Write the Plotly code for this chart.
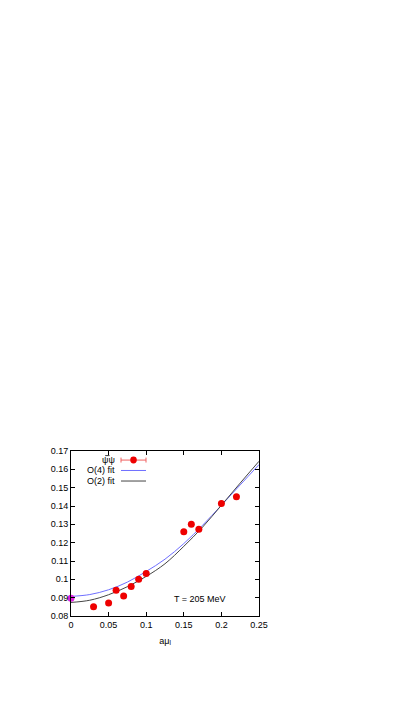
import plotly.graph_objects as go

# lattice data: chiral condensate vs light quark chemical potential
mu = [0.03, 0.05, 0.06, 0.07, 0.08, 0.09, 0.10, 0.15, 0.16, 0.17, 0.20, 0.22]
pbp = [0.0851, 0.0871, 0.0941, 0.0909, 0.0961, 0.1001, 0.1032,
       0.1259, 0.1301, 0.1273, 0.1413, 0.1450]
mu0 = [0.0]
pbp0 = [0.0897]

# fit curves
mu_fit = [0.0, 0.025, 0.05, 0.075, 0.1, 0.125, 0.15, 0.175, 0.2, 0.225, 0.25]
o4_fit = [0.0907, 0.0917, 0.0943, 0.0985, 0.1043, 0.1110, 0.1195,
          0.1295, 0.1404, 0.1515, 0.1626]
o2_fit = [0.0874, 0.0886, 0.0916, 0.0960, 0.1016, 0.1085, 0.1180,
          0.1285, 0.1404, 0.1525, 0.1644]

font = dict(family="Liberation Sans, Arial, sans-serif", size=9, color="black")

fig = go.Figure()
fig.add_trace(go.Scatter(x=mu_fit, y=o4_fit, mode="lines",
                         line=dict(color="#6f6fff", width=1, shape="spline")))
fig.add_trace(go.Scatter(x=mu_fit, y=o2_fit, mode="lines",
                         line=dict(color="#454545", width=1, shape="spline")))
fig.add_trace(go.Scatter(x=mu, y=pbp, mode="markers",
                         marker=dict(color="#ee0000", size=7), cliponaxis=False))
fig.add_trace(go.Scatter(x=mu0, y=pbp0, mode="markers",
                         marker=dict(color="#e020e0", size=7), cliponaxis=False))

# gnuplot style key (text on the left, sample on the right)
keys = [("ψψ", 0.945), ("O(4) fit", 0.882), ("O(2) fit", 0.818)]
for text, ky in keys:
    fig.add_annotation(x=0.245, y=ky, xref="x domain", yref="y domain",
                       text=text, showarrow=False, xanchor="right",
                       yanchor="middle", font=font)
# bar over the first psi
fig.add_shape(type="line", xref="x domain", yref="y domain",
              x0=0.182, x1=0.205, y0=0.972, y1=0.972,
              line=dict(color="black", width=0.8))
fig.add_shape(type="line", xref="x domain", yref="y domain",
              x0=0.266, x1=0.399, y0=0.945, y1=0.945,
              line=dict(color="#f06060", width=1))
for cx in (0.266, 0.399):
    fig.add_shape(type="line", xref="x domain", yref="y domain",
                  x0=cx, x1=cx, y0=0.93, y1=0.96,
                  line=dict(color="#f06060", width=1))
fig.add_shape(type="circle", xref="x domain", yref="y domain",
              x0=0.315, x1=0.35, y0=0.924, y1=0.966,
              fillcolor="#ee0000", line=dict(color="#ee0000", width=0))
fig.add_shape(type="line", xref="x domain", yref="y domain",
              x0=0.266, x1=0.399, y0=0.882, y1=0.882,
              line=dict(color="#6f6fff", width=1))
fig.add_shape(type="line", xref="x domain", yref="y domain",
              x0=0.266, x1=0.399, y0=0.818, y1=0.818,
              line=dict(color="#454545", width=1))

fig.add_annotation(x=0.835, y=0.06, xref="x domain", yref="y domain",
                   text="T = 205 MeV", showarrow=False, font=font)

axis = dict(showgrid=False, zeroline=False, showline=True, linecolor="black",
            linewidth=1, mirror="ticks", ticks="inside", ticklen=4,
            tickcolor="black", tickfont=font)
fig.update_xaxes(range=[0, 0.25], tickvals=[0, 0.05, 0.1, 0.15, 0.2, 0.25],
                 ticktext=["0", "0.05", "0.1", "0.15", "0.2", "0.25"],
                 title=dict(text="aμ<sub>l</sub>", font=font, standoff=8),
                 **axis)
fig.update_yaxes(range=[0.08, 0.17],
                 tickvals=[0.08, 0.09, 0.1, 0.11, 0.12, 0.13, 0.14, 0.15, 0.16, 0.17],
                 ticktext=["0.08", "0.09", "0.1", "0.11", "0.12", "0.13",
                           "0.14", "0.15", "0.16", "0.17"],
                 **axis)
# page body adds an 8px offset, so margins are shifted to compensate
fig.update_layout(width=409, height=708, showlegend=False,
                  paper_bgcolor="white", plot_bgcolor="white",
                  margin=dict(l=63, r=158, t=443, b=100))
fig.write_html("out.html")
